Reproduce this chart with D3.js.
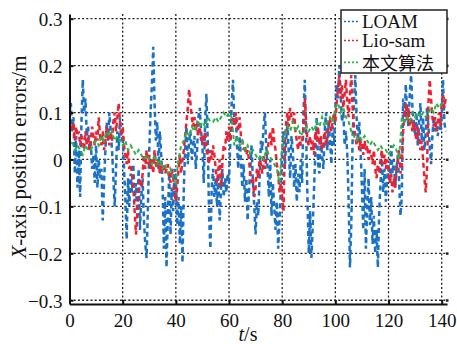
<!DOCTYPE html>
<html>
<head>
<meta charset="utf-8">
<script src="https://cdn.jsdelivr.net/npm/d3@7"></script>
<style>
  body { margin: 0; background: #fff; }
  svg text { font-family: "Liberation Serif", "Times New Roman", serif; fill: #111; }
</style>
</head>
<body>
<div id="chart"></div>
<script>
// LOAM, one value every 0.5 s
const loam = [
  0.10, 0.12, 0.06, 0.09, -0.03, 0.05, -0.06, 0.02, -0.08, 0.08, 0.17, 0.10, 0.13, 0.05, 0.07, 0.02, 0.04, -0.02, 0.01, -0.05,
  0.03, -0.06, 0.00, -0.04, -0.02, -0.13, -0.05, 0.02, 0.08, 0.04, 0.10, 0.06, 0.02, -0.04, -0.10, -0.02, 0.06, 0.02, 0.09, 0.04,
  0.05, -0.02, -0.08, -0.17, -0.04, -0.10, -0.03, -0.07, -0.01, -0.09, -0.05, -0.12, -0.02, -0.15, -0.08, -0.04, -0.13, -0.18, -0.21, -0.10,
  0.02, 0.10, 0.16, 0.24, 0.12, 0.04, 0.08, -0.02, 0.06, 0.01, -0.05, -0.19, -0.08, -0.23, -0.12, -0.03, -0.16, -0.06, -0.11, -0.02,
  -0.04, -0.14, -0.08, -0.18, -0.10, -0.22, -0.06, 0.02, 0.07, -0.01, 0.04, 0.06, 0.00, 0.03, 0.05, -0.02, 0.02, 0.09, 0.11, 0.06,
  0.03, -0.05, 0.08, 0.14, 0.04, -0.12, -0.19, -0.06, -0.02, -0.08, -0.04, -0.10, -0.03, -0.13, -0.06, -0.02, -0.08, -0.04, -0.07, -0.03,
  -0.05, 0.04, 0.12, 0.17, 0.08, 0.10, 0.03, -0.02, 0.05, 0.00, -0.06, -0.01, -0.09, -0.04, -0.13, -0.07, -0.02, 0.03, -0.05, -0.10,
  -0.16, -0.09, -0.12, -0.04, 0.04, 0.02, 0.07, 0.10, 0.03, -0.02, -0.08, 0.00, -0.12, -0.05, -0.10, -0.15, -0.09, -0.19, -0.13, -0.06,
  0.02, 0.06, -0.02, 0.04, 0.08, 0.01, -0.04, 0.05, 0.02, -0.06, -0.01, -0.09, -0.03, -0.07, 0.00, -0.05, 0.10, 0.17, 0.06, -0.08,
  -0.20, -0.11, -0.21, -0.14, -0.06, 0.02, 0.09, -0.01, -0.03, 0.04, 0.01, -0.02, 0.06, 0.10, 0.02, 0.08, 0.04, -0.01, 0.07, 0.03,
  0.11, 0.16, 0.13, 0.20, 0.14, 0.08, 0.10, 0.03, 0.06, 0.01, -0.09, -0.23, -0.14, 0.05, 0.12, 0.18, 0.09, 0.04, 0.08, 0.02,
  -0.06, -0.15, -0.02, -0.19, -0.10, -0.04, -0.14, -0.08, -0.18, -0.12, -0.20, -0.15, -0.23, -0.11, -0.05, 0.01, -0.07, -0.02, -0.09, -0.04,
  -0.01, -0.05, 0.03, -0.03, 0.00, -0.06, -0.02, 0.01, -0.05, -0.12, -0.08, 0.13, 0.08, 0.16, 0.10, 0.07, 0.14, 0.18, 0.11, 0.08,
  0.05, 0.10, 0.03, 0.08, 0.12, 0.04, 0.09, 0.02, 0.06, 0.11, 0.07, 0.03, -0.01, 0.05, 0.09, 0.06, 0.08, 0.05, 0.07, 0.06,
  0.09, 0.17, 0.08, 0.06
];

// Lio-sam, one value every 0.5 s
const lioSam = [
  0.09, 0.07, 0.06, 0.08, 0.04, 0.07, 0.05, 0.06, 0.03, 0.05, 0.04, 0.02, 0.06, 0.03, 0.05, 0.02, 0.04, 0.07, 0.05, 0.03,
  0.06, 0.04, 0.09, 0.05, 0.03, 0.06, 0.02, 0.04, 0.07, 0.05, 0.03, 0.06, 0.04, 0.08, 0.10, 0.06, 0.09, 0.12, 0.08, 0.05,
  0.07, 0.03, 0.01, -0.01, 0.02, -0.02, -0.01, -0.03, -0.06, -0.11, -0.16, -0.12, -0.07, -0.04, -0.06, -0.03, 0.01, -0.02, 0.02, -0.01,
  0.01, -0.02, 0.00, -0.03, 0.02, -0.01, -0.02, 0.00, -0.03, -0.01, -0.02, -0.01, -0.03, -0.02, -0.01, -0.03, -0.05, -0.02, -0.04, -0.07,
  -0.09, -0.06, -0.02, 0.01, -0.03, 0.00, 0.02, 0.05, 0.08, 0.11, 0.15, 0.12, 0.09, 0.07, 0.09, 0.06, 0.08, 0.05, 0.07, 0.04,
  0.05, 0.03, 0.06, 0.02, 0.01, -0.01, 0.02, 0.00, 0.03, 0.01, -0.02, -0.05, -0.02, 0.00, -0.06, -0.01, 0.03, 0.02, 0.06, 0.04,
  0.07, 0.04, 0.06, 0.09, 0.07, 0.10, 0.08, 0.06, 0.09, 0.05, 0.04, 0.02, 0.03, 0.01, 0.02, 0.00, -0.03, -0.05, -0.04, -0.08,
  -0.06, -0.02, -0.04, 0.00, -0.01, -0.03, 0.01, -0.02, 0.00, 0.02, 0.04, 0.06, 0.03, 0.07, 0.04, 0.02, -0.01, -0.03, -0.07, -0.05,
  -0.08, -0.11, 0.03, 0.08, 0.10, 0.07, 0.11, 0.09, 0.08, 0.10, 0.06, 0.04, 0.02, 0.05, 0.03, 0.04, 0.06, 0.13, 0.08, 0.04,
  0.03, 0.05, 0.02, 0.04, 0.01, 0.06, 0.04, 0.07, 0.03, 0.05, 0.02, 0.04, 0.06, 0.03, 0.05, 0.07, 0.09, 0.06, 0.08, 0.10,
  0.08, 0.12, 0.15, 0.18, 0.13, 0.16, 0.11, 0.14, 0.17, 0.12, 0.09, 0.14, 0.18, 0.11, 0.07, 0.05, 0.03, 0.05, 0.02, 0.04,
  0.03, 0.01, 0.04, 0.02, 0.03, 0.00, 0.02, 0.01, -0.01, 0.02, -0.02, -0.04, -0.01, -0.03, 0.00, 0.02, -0.01, 0.01, -0.02, 0.00,
  -0.02, -0.05, -0.03, -0.07, -0.04, -0.06, -0.02, 0.00, 0.02, -0.03, -0.01, 0.06, 0.09, 0.12, 0.08, 0.11, 0.07, 0.09, 0.06, 0.08,
  0.06, 0.04, 0.07, 0.05, 0.02, 0.04, 0.00, -0.04, -0.07, -0.02, 0.12, 0.17, 0.13, 0.09, 0.07, 0.09, 0.06, 0.08, 0.10, 0.07,
  0.12, 0.14, 0.11, 0.13
];

// 本文算法, one value every 1 s
const ours = [
  0.03, 0.04, 0.02, 0.03, 0.02, 0.01, 0.03, 0.02, 0.02, 0.03,
  0.04, 0.03, 0.05, 0.04, 0.06, 0.05, 0.06, 0.04, 0.05, 0.04,
  0.03, 0.04, 0.02, 0.03, 0.02, 0.01, 0.02, 0.01, 0.00, 0.01,
  0.00, -0.01, 0.01, -0.01, 0.00, -0.02, -0.01, -0.03, -0.02, -0.04,
  -0.05, 0.00, 0.03, 0.04, 0.06, 0.05, 0.07, 0.06, 0.08, 0.07,
  0.08, 0.07, 0.09, 0.08, 0.08, 0.09, 0.08, 0.09, 0.10, 0.09,
  0.10, 0.09, 0.03, 0.05, 0.03, 0.04, 0.02, 0.03, 0.01, 0.02,
  0.01, 0.00, 0.01, 0.00, 0.02, 0.01, 0.00, -0.01, -0.02, -0.05,
  0.03, 0.05, 0.07, 0.06, 0.08, 0.06, 0.07, 0.05, 0.06, 0.07,
  0.06, 0.07, 0.06, 0.08, 0.07, 0.09, 0.07, 0.08, 0.09, 0.08,
  0.11, 0.12, 0.10, 0.11, 0.09, 0.08, 0.06, 0.05, 0.04, 0.05,
  0.04, 0.05, 0.04, 0.03, 0.04, 0.03, 0.02, 0.03, 0.02, 0.02,
  0.01, 0.02, 0.03, 0.02, 0.00, 0.09, 0.08, 0.09, 0.08, 0.10,
  0.09, 0.10, 0.09, 0.10, 0.09, 0.10, 0.11, 0.10, 0.12, 0.11,
  0.12, 0.13
];

const xTicks = [0, 20, 40, 60, 80, 100, 120, 140];
const yTicks = [-0.3, -0.2, -0.1, 0, 0.1, 0.2, 0.3];
const seriesNames = ['LOAM', 'Lio-sam', '本文算法'];

const width = 457, height = 344;
const mLeft = 69.5, mRight = 447, mTop = 14, mBottom = 304;
const serif = '"Liberation Serif", "Times New Roman", serif';

const x = d3.scaleLinear().domain([0, 142]).range([mLeft, mRight]);
const y = d3.scaleLinear().domain([-0.308, 0.31]).range([mBottom, mTop]);

const svg = d3.select('#chart').append('svg')
  .attr('width', width)
  .attr('height', height);

// grid
svg.append('g').selectAll('line')
  .data(xTicks.slice(1))
  .join('line')
  .attr('x1', d => x(d)).attr('x2', d => x(d))
  .attr('y1', mTop).attr('y2', mBottom)
  .attr('stroke', '#222').attr('stroke-width', 1.3)
  .attr('stroke-dasharray', '2,2.2');

svg.append('g').selectAll('line')
  .data(yTicks)
  .join('line')
  .attr('x1', mLeft).attr('x2', mRight)
  .attr('y1', d => y(d)).attr('y2', d => y(d))
  .attr('stroke', '#222').attr('stroke-width', 1.3)
  .attr('stroke-dasharray', '2,2.2');

// small marks on right edge
svg.append('g').selectAll('rect')
  .data(yTicks)
  .join('rect')
  .attr('x', mRight - 1).attr('y', d => y(d) - 1)
  .attr('width', 2.5).attr('height', 2.5)
  .attr('fill', '#222');

// data lines
svg.append('clipPath').attr('id', 'clip')
  .append('rect')
  .attr('x', mLeft).attr('y', mTop)
  .attr('width', mRight - mLeft).attr('height', mBottom - mTop);

const plot = svg.append('g').attr('clip-path', 'url(#clip)');

const line = d3.line()
  .x(d => x(d[0]))
  .y(d => y(d[1]));

const series = [
  { data: loam.map((v, i) => [i * 0.5, v]), color: '#1b72c4', w: 2.5, dash: '5,3.5' },
  { data: lioSam.map((v, i) => [i * 0.5, v]), color: '#ec2233', w: 2.5, dash: '5,3.5' },
  { data: ours.map((v, i) => [i, v]), color: '#2fb14a', w: 2, dash: '4,3' }
];

plot.selectAll('path')
  .data(series)
  .join('path')
  .attr('d', d => line(d.data))
  .attr('fill', 'none')
  .attr('stroke', d => d.color)
  .attr('stroke-width', d => d.w)
  .attr('stroke-dasharray', d => d.dash);

// axes
const xAxis = d3.axisBottom(x).tickValues(xTicks).tickSizeInner(-4).tickSizeOuter(0).tickFormat(d3.format('d'));
const gx = svg.append('g').attr('transform', `translate(0,${mBottom})`).call(xAxis)
  .attr('font-family', serif).attr('font-size', 19);
gx.select('.domain').attr('stroke', '#111').attr('stroke-width', 2);
gx.selectAll('.tick line').attr('stroke', '#111').attr('stroke-width', 2);
gx.selectAll('.tick text').attr('y', 23).attr('dy', 0).attr('fill', '#111');

const yAxis = d3.axisLeft(y).tickValues(yTicks).tickSizeInner(-4).tickSizeOuter(0)
  .tickFormat(d => d === 0 ? '0' : d3.format('.1f')(d).replace('-', '\u2212'));
const gy = svg.append('g').attr('transform', `translate(${mLeft},0)`).call(yAxis)
  .attr('font-family', serif).attr('font-size', 19);
gy.select('.domain').attr('stroke', '#111').attr('stroke-width', 2);
gy.selectAll('.tick line').attr('stroke', '#111').attr('stroke-width', 2);
gy.selectAll('.tick text').attr('x', -7).attr('dy', '0.36em').attr('fill', '#111');

// axis labels
const xl = svg.append('text')
  .attr('x', 248).attr('y', 341)
  .attr('text-anchor', 'middle')
  .attr('font-family', serif)
  .attr('font-size', 20);
xl.append('tspan').attr('font-style', 'italic').text('t');
xl.append('tspan').text('/s');

const yl = svg.append('text')
  .attr('transform', 'translate(26,157) rotate(-90)')
  .attr('text-anchor', 'middle')
  .attr('font-family', serif)
  .attr('font-size', 21);
yl.append('tspan').attr('font-style', 'italic').text('X');
yl.append('tspan').text('-axis position errors/m');

// legend
const legend = svg.append('g').attr('transform', 'translate(341,10)');
legend.append('rect')
  .attr('width', 106).attr('height', 63)
  .attr('fill', '#fff').attr('stroke', '#222').attr('stroke-width', 1.5);

const rowY = [11.5, 30.5, 53.9];
const items = legend.selectAll('.item')
  .data(seriesNames)
  .join('g')
  .attr('class', 'item')
  .attr('transform', (d, i) => `translate(0,${rowY[i]})`);

items.append('line')
  .attr('x1', 3).attr('x2', 17)
  .attr('y1', (d, i) => i === 2 ? -1.5 : 0).attr('y2', (d, i) => i === 2 ? -1.5 : 0)
  .attr('stroke', (d, i) => series[i].color)
  .attr('stroke-width', 1.6)
  .attr('stroke-dasharray', '2,2');

items.append('text')
  .attr('x', 21).attr('dy', '0.34em')
  .attr('font-size', (d, i) => i === 2 ? 18 : 19)
  .style('font-family', (d, i) => i === 2 ? '"Noto Sans CJK SC", sans-serif' : serif)
  .text(d => d);
</script>
</body>
</html>
